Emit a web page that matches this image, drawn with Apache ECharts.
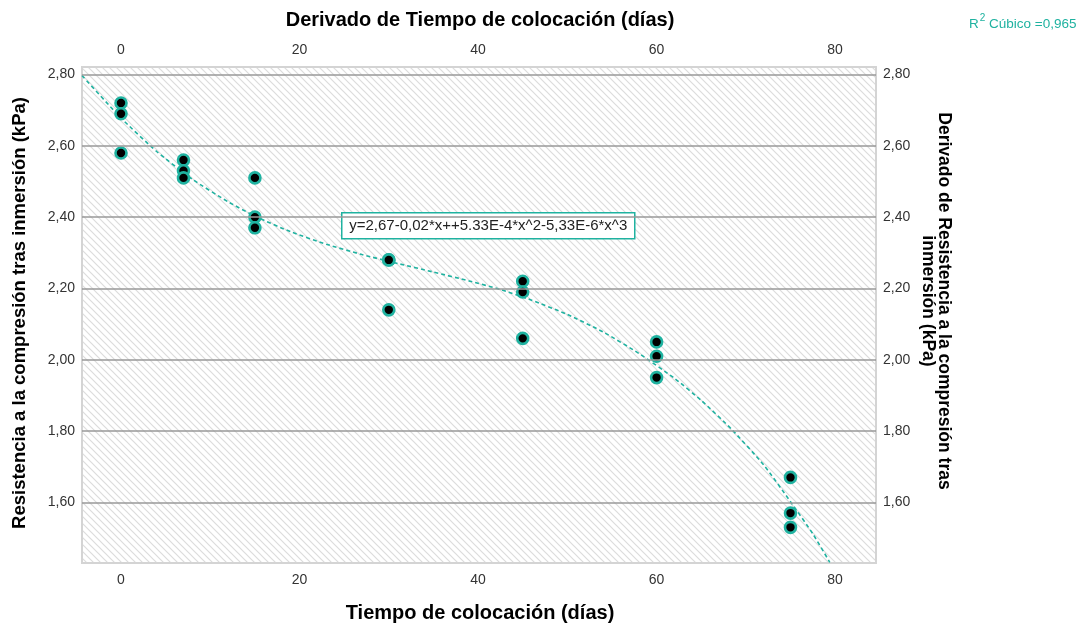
<!DOCTYPE html>
<html>
<head>
<meta charset="utf-8">
<script src="https://cdn.jsdelivr.net/npm/echarts@6/dist/echarts.min.js"></script>
<style>
html,body{margin:0;padding:0;background:#fff;}
#main{width:1083px;height:628px;}
</style>
</head>
<body>
<div id="main"></div>
<script>
// Observed data
var tiempo = [0,0,0, 7,7,7, 15,15,15, 30,30,30, 45,45,45, 60,60,60, 75,75,75];
var resistencia = [2.72,2.69,2.58, 2.56,2.53,2.51, 2.51,2.40,2.37, 2.28,2.28,2.14, 2.22,2.19,2.06, 2.05,2.01,1.95, 1.67,1.57,1.53];
// Fitted cubic curve
var curveX = [-4.37, 0, 4, 8, 12, 15.15, 19, 23, 27, 31, 35, 39, 42.5, 46, 50, 54, 58, 62, 65, 68.4, 72, 75, 77.5, 79.4];
var curveY = [2.797, 2.678, 2.584, 2.506, 2.443, 2.401, 2.359, 2.324, 2.295, 2.270, 2.246, 2.221, 2.197, 2.167, 2.127, 2.078, 2.018, 1.948, 1.886, 1.805, 1.705, 1.602, 1.512, 1.432];
// Tick labels
var xTicks = [0, 20, 40, 60, 80];
var yTicks = [1.6, 1.8, 2.0, 2.2, 2.4, 2.6, 2.8];

var teal = '#1fb2a0';
var font = '"Liberation Sans", Arial, sans-serif';

// hatch pattern
var S = 7;
var tile = document.createElement('canvas');
tile.width = S; tile.height = S;
var c = tile.getContext('2d');
c.fillStyle = '#ffffff'; c.fillRect(0,0,S,S);
c.strokeStyle = '#dcdcdc'; c.lineWidth = 1.2;
c.beginPath();
c.moveTo(-1,-1); c.lineTo(S+1,S+1);
c.moveTo(-1,S-1); c.lineTo(1,S+1);
c.moveTo(S-1,-1); c.lineTo(S+1,1);
c.stroke();

var scatterData = tiempo.map(function(t,i){ return [t, resistencia[i]]; });
var curveData = curveX.map(function(x,i){ return [x, curveY[i]]; });

function yFmt(v){ return v.toFixed(2).replace('.', ','); }

var xBase = {
  type: 'value', min: -4.37, max: 84.58,
  axisLine: {show: false}, axisTick: {show: false}, splitLine: {show: false},
  axisLabel: {customValues: xTicks, color: '#333', fontSize: 14, fontFamily: font, margin: 10}
};
var yBase = {
  type: 'value', min: 1.430, max: 2.821,
  axisLine: {show: false}, axisTick: {show: false}, splitLine: {show: false},
  axisLabel: {customValues: yTicks, color: '#333', fontSize: 14, fontFamily: font, margin: 7, formatter: yFmt}
};

var chart = echarts.init(document.getElementById('main'), null, {renderer: 'canvas'});
chart.setOption({
  animation: false,
  backgroundColor: '#fff',
  grid: {
    left: 82, top: 67, right: 207, bottom: 65,
    show: true,
    backgroundColor: {image: tile, repeat: 'repeat'},
    borderColor: '#d4d4d4', borderWidth: 2
  },
  xAxis: [
    Object.assign({}, xBase, {position: 'bottom'}),
    Object.assign({}, xBase, {position: 'top'})
  ],
  yAxis: [
    Object.assign({}, yBase, {position: 'left'}),
    Object.assign({}, yBase, {position: 'right'})
  ],
  series: [
    {
      type: 'line', xAxisIndex: 0, yAxisIndex: 0,
      data: curveData, smooth: 0.2, showSymbol: false, clip: true,
      lineStyle: {color: teal, width: 1.6, type: [4, 3]},
      markLine: {
        silent: true, symbol: 'none', label: {show: false},
        lineStyle: {color: '#999', width: 1.5, type: 'solid'},
        data: yTicks.map(function(v){ return {yAxis: v}; })
      },
      z: 3
    },
    {
      type: 'scatter', xAxisIndex: 0, yAxisIndex: 0,
      data: scatterData, symbol: 'circle', symbolSize: 11,
      itemStyle: {color: '#000', borderColor: teal, borderWidth: 2.6, opacity: 1},
      z: 4
    }
  ],
  graphic: [
    {type: 'text', x: 480, y: 20,
     style: {text: 'Derivado de Tiempo de colocación (días)', font: 'bold 20px ' + font, fill: '#000', align: 'center', verticalAlign: 'middle'}},
    {type: 'text', x: 480, y: 613,
     style: {text: 'Tiempo de colocación (días)', font: 'bold 20px ' + font, fill: '#000', align: 'center', verticalAlign: 'middle'}},
    {type: 'text', x: 20, y: 313, rotation: Math.PI/2,
     style: {text: 'Resistencia a la compresión tras inmersión (kPa)', font: 'bold 18.5px ' + font, fill: '#000', align: 'center', verticalAlign: 'middle'}},
    {type: 'text', x: 944, y: 301, rotation: -Math.PI/2,
     style: {text: 'Derivado de Resistencia a la compresión tras', font: 'bold 17.5px ' + font, fill: '#000', align: 'center', verticalAlign: 'middle'}},
    {type: 'text', x: 928, y: 301, rotation: -Math.PI/2,
     style: {text: 'inmersión (kPa)', font: 'bold 17.5px ' + font, fill: '#000', align: 'center', verticalAlign: 'middle'}},
    {type: 'text', x: 969, y: 13,
     style: {text: '{a|R}{s|2}{a| Cúbico =0,965}', rich: {
        a: {fontSize: 13.5, fontFamily: font, fill: teal, color: teal, verticalAlign: 'bottom', lineHeight: 18},
        s: {fontSize: 10, fontFamily: font, fill: teal, color: teal, verticalAlign: 'top', lineHeight: 12, padding: [0,0,5,1]}
     }}},
    {type: 'group', left: 341, top: 212, z: 10, children: [
      {type: 'rect', shape: {x: 0, y: 0, width: 293, height: 26},
       style: {fill: '#fff', stroke: teal, lineWidth: 1.5}},
      {type: 'text', x: 146.5, y: 13.5,
       style: {text: 'y=2,67-0,02*x++5.33E-4*x^2-5,33E-6*x^3', font: '15px ' + font, fill: '#222', align: 'center', verticalAlign: 'middle'}}
    ]}
  ]
});
</script>
</body>
</html>
